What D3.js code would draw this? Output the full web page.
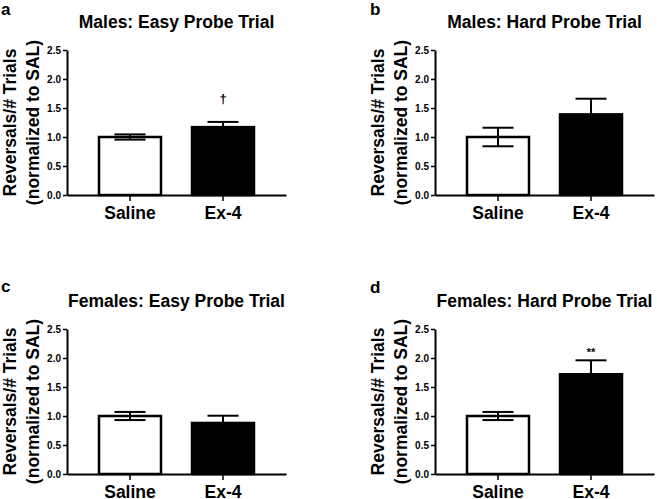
<!DOCTYPE html>
<html>
<head>
<meta charset="utf-8">
<script src="https://cdn.jsdelivr.net/npm/d3@7"></script>
<style>
  html, body { margin: 0; padding: 0; background: #fff; }
  svg { display: block; }
  text { font-family: "Liberation Sans", Arial, Helvetica, sans-serif; fill: #000; }
</style>
</head>
<body>
<script>
// ---- data ----
const panelLetters = ["a", "b", "c", "d"];
const panelTitles = [
  "Males: Easy Probe Trial",
  "Males: Hard Probe Trial",
  "Females: Easy Probe Trial",
  "Females: Hard Probe Trial"
];
const groups = ["Saline", "Ex-4"];
const meansSaline = [1.0, 1.0, 1.0, 1.0];
const meansEx4 = [1.17, 1.39, 0.88, 1.72];
const semSaline = [0.045, 0.16, 0.07, 0.07];
const semEx4 = [0.09, 0.27, 0.125, 0.24];
const sigEx4 = ["†", "", "", "**"];
const yTicks = [0, 0.5, 1.0, 1.5, 2.0, 2.5];
const yLabelLines = ["Reversals/# Trials", "(normalized to SAL)"];

// ---- layout ----
const W = 657, H = 499;
const plotW = 219, plotH = 145;
const origins = [[67, 50], [435, 50], [67, 329], [435, 329]];
const letterPos = [[1, 15], [370, 15], [1, 292], [370, 293]];

const svg = d3.select("body").append("svg").attr("width", W).attr("height", H);

const x = d3.scaleBand().domain(groups).range([0, plotW])
  .paddingInner(1/3).paddingOuter(0.344);
const y = d3.scaleLinear().domain([0, 2.5]).range([plotH, 0]);

panelTitles.forEach((title, i) => {
  const [ox, oy] = origins[i];
  const g = svg.append("g").attr("transform", `translate(${ox},${oy})`);

  const rows = groups.map((grp, j) => ({
    group: grp,
    mean: j === 0 ? meansSaline[i] : meansEx4[i],
    sem: j === 0 ? semSaline[i] : semEx4[i],
    sig: j === 0 ? "" : sigEx4[i],
    fill: j === 0 ? "#fff" : "#000"
  }));

  // error bars
  const capW = x.bandwidth() / 2;
  const eb = g.selectAll(".eb").data(rows).enter().append("g");
  eb.append("line")
    .attr("x1", d => x(d.group) + x.bandwidth() / 2)
    .attr("x2", d => x(d.group) + x.bandwidth() / 2)
    .attr("y1", d => y(d.mean - d.sem))
    .attr("y2", d => y(d.mean + d.sem))
    .attr("stroke", "#000").attr("stroke-width", 2);
  ["+", "-"].forEach(sgn => {
    eb.append("line")
      .attr("x1", d => x(d.group) + x.bandwidth() / 2 - capW / 2)
      .attr("x2", d => x(d.group) + x.bandwidth() / 2 + capW / 2)
      .attr("y1", d => y(sgn === "+" ? d.mean + d.sem : d.mean - d.sem))
      .attr("y2", d => y(sgn === "+" ? d.mean + d.sem : d.mean - d.sem))
      .attr("stroke", "#000").attr("stroke-width", 2);
  });

  // bars
  g.selectAll(".bar").data(rows).enter().append("rect")
    .attr("x", d => x(d.group))
    .attr("y", d => y(d.mean))
    .attr("width", x.bandwidth())
    .attr("height", d => y(0) - y(d.mean))
    .attr("fill", d => d.fill)
    .attr("fill-opacity", d => d.fill === "#fff" ? 0 : 1)
    .attr("stroke", "#000").attr("stroke-width", 2.5);

  // significance marks
  g.selectAll(".sig").data(rows.filter(d => d.sig)).enter().append("text")
    .attr("x", d => x(d.group) + x.bandwidth() / 2)
    .attr("y", d => d.sig === "†" ? y(d.mean + d.sem) - 19 : y(d.mean + d.sem) - 4)
    .attr("text-anchor", "middle")
    .style("fill", "#000")
    .style("font-family", "'Liberation Sans', Arial, sans-serif")
    .style("font-size", d => d.sig === "†" ? "13px" : "11px")
    .style("font-weight", "bold")
    .text(d => d.sig);

  // y axis
  const ya = g.append("g").call(
    d3.axisLeft(y).tickValues(yTicks).tickFormat(d3.format(".1f"))
      .tickSize(4).tickSizeOuter(0).tickPadding(2)
  );
  ya.select(".domain").attr("stroke", "#000").attr("stroke-width", 2);
  ya.selectAll(".tick line").attr("stroke", "#000").attr("stroke-width", 1.5);
  ya.selectAll(".tick text").style("font-size", "10px").style("font-weight", "bold")
    .attr("fill", "#000").style("font-family", "'Liberation Sans', Arial, sans-serif");

  // x axis
  const xa = g.append("g").attr("transform", `translate(0,${plotH})`).call(
    d3.axisBottom(x).tickSize(6).tickSizeOuter(0).tickPadding(6)
  );
  xa.select(".domain").attr("stroke", "#000").attr("stroke-width", 2);
  xa.selectAll(".tick line").attr("stroke", "#000").attr("stroke-width", 1.5);
  xa.selectAll(".tick text").style("font-size", "17.5px").style("font-weight", "bold")
    .attr("fill", "#000").style("font-family", "'Liberation Sans', Arial, sans-serif");

  // title
  g.append("text")
    .attr("x", plotW / 2).attr("y", -22)
    .attr("text-anchor", "middle")
    .style("font-size", "17.5px").style("font-weight", "bold")
    .text(title);

  // y label (two lines)
  const offs = [-51, -28];
  yLabelLines.forEach((ln, k) => {
    g.append("text")
      .attr("transform", `translate(${offs[k]},${plotH / 2}) rotate(-90)`)
      .attr("text-anchor", "middle")
      .style("font-size", "17.5px").style("font-weight", "bold")
      .text(ln);
  });

  // panel letter
  svg.append("text")
    .attr("x", letterPos[i][0]).attr("y", letterPos[i][1])
    .style("font-size", "17px").style("font-weight", "bold")
    .text(panelLetters[i]);
});
</script>
</body>
</html>
